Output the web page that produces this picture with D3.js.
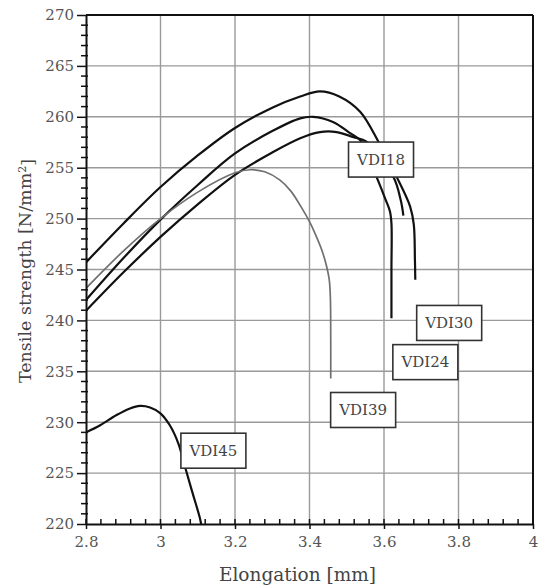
<!DOCTYPE html>
<html>
<head>
<meta charset="utf-8">
<script src="https://cdn.jsdelivr.net/npm/d3@7"></script>
<style>
  body { margin: 0; background: #fff; }
  text { font-family: "DejaVu Serif", "Liberation Serif", serif; }
</style>
</head>
<body>
<svg id="chart" width="542" height="586"></svg>
<script>
// curves: [elongation mm, tensile strength N/mm2]
const vdi30 = [[2.8,245.7],[2.9,249.5],[3.0,253.1],[3.1,256.2],[3.2,258.9],[3.3,260.9],[3.375,262.0],[3.428,262.5],[3.48,262.0],[3.536,260.5],[3.585,257.55],[3.634,254.1],[3.67,251.2],[3.68,249.4],[3.683,246],[3.684,244.0]];
const vdi24 = [[2.8,242.0],[2.9,246.1],[3.0,249.9],[3.1,253.3],[3.2,256.4],[3.3,258.6],[3.375,259.85],[3.41,260.0],[3.463,259.5],[3.509,258.4],[3.54,257.55],[3.58,254.1],[3.605,251.8],[3.616,250.7],[3.62,249.5],[3.62,245],[3.62,240.2]];
const vdi18 = [[2.8,240.95],[2.9,244.7],[3.0,248.2],[3.1,251.4],[3.2,254.3],[3.3,256.5],[3.375,257.9],[3.428,258.5],[3.473,258.5],[3.518,258.0],[3.553,257.55],[3.625,254.1],[3.645,251.8],[3.652,250.3]];
const vdi39 = [[2.8,243.15],[2.9,246.8],[3.0,250.0],[3.1,252.6],[3.2,254.5],[3.24,254.8],[3.28,254.6],[3.32,253.8],[3.35,252.7],[3.375,251.3],[3.4,249.7],[3.42,248.1],[3.435,246.7],[3.446,245.3],[3.453,244.0],[3.456,242.3],[3.457,238],[3.457,234.3]];
const vdi45 = [[2.8,229.0],[2.838,229.7],[2.882,230.7],[2.918,231.35],[2.945,231.6],[2.972,231.45],[2.999,230.9],[3.025,229.7],[3.048,227.9],[3.066,225.6],[3.084,223.3],[3.106,220.55],[3.11,219.8]];

const seriesNames = ["VDI30", "VDI24", "VDI18", "VDI39", "VDI45"];
const seriesData = [vdi30, vdi24, vdi18, vdi39, vdi45];
const seriesColor = ["#111", "#111", "#111", "#707070", "#111"];
// label box centres, in data units
const labelX = [3.775, 3.711, 3.592, 3.544, 3.142];
const labelY = [239.75, 235.9, 255.8, 231.2, 227.2];

const xTicks = [2.8, 3.0, 3.2, 3.4, 3.6, 3.8, 4.0];
const yTicks = [220, 225, 230, 235, 240, 245, 250, 255, 260, 265, 270];

const svg = d3.select("#chart");
const pLeft = 86, pRight = 533, pTop = 15, pBottom = 524;

const x = d3.scaleLinear().domain([2.8, 4.0]).range([pLeft, pRight]);
const y = d3.scaleLinear().domain([220, 270]).range([pBottom, pTop]);

svg.append("defs").append("clipPath").attr("id", "plotclip")
  .append("rect").attr("x", pLeft).attr("y", pTop)
  .attr("width", pRight - pLeft).attr("height", pBottom - pTop);

// grid
const grid = svg.append("g").attr("stroke", "#9a9a9a").attr("stroke-width", 1.4);
grid.selectAll(".gx").data(xTicks.slice(1, -1)).join("line")
  .attr("x1", d => x(d)).attr("x2", d => x(d))
  .attr("y1", pTop).attr("y2", pBottom);
grid.selectAll(".gy").data(yTicks.slice(1, -1)).join("line")
  .attr("x1", pLeft).attr("x2", pRight)
  .attr("y1", d => y(d)).attr("y2", d => y(d));

// frame top/right
svg.append("line").attr("x1", pLeft).attr("x2", pRight).attr("y1", pTop).attr("y2", pTop)
  .attr("stroke", "#111").attr("stroke-width", 2);
svg.append("line").attr("x1", pRight).attr("x2", pRight).attr("y1", pTop).attr("y2", pBottom)
  .attr("stroke", "#111").attr("stroke-width", 2);

// curves
const line = d3.line()
  .x(d => x(d[0])).y(d => y(d[1]))
  .curve(d3.curveCatmullRom.alpha(0.5));

svg.append("g").attr("clip-path", "url(#plotclip)")
  .selectAll("path").data(seriesData).join("path")
  .attr("d", line)
  .attr("fill", "none")
  .attr("stroke", (d, i) => seriesColor[i])
  .attr("stroke-width", (d, i) => i === 3 ? 1.7 : 2.2)
  .attr("stroke-linejoin", "round");

// axes
const xAxis = svg.append("g").attr("transform", `translate(0,${pBottom})`)
  .call(d3.axisBottom(x).tickValues(xTicks).tickFormat(d3.format("~g"))
    .tickSizeInner(5).tickSizeOuter(0).tickPadding(7));
xAxis.select(".domain").attr("stroke", "#111").attr("stroke-width", 2);
xAxis.selectAll("line").attr("stroke", "#111").attr("stroke-width", 1.5);
xAxis.selectAll("text").attr("font-size", 15).attr("fill", "#555");

const xMinor = d3.range(0, 31).map(i => 2.8 + i * 0.04);
svg.append("g").selectAll("line").data(xMinor).join("line")
  .attr("x1", d => x(d)).attr("x2", d => x(d))
  .attr("y1", pBottom).attr("y2", pBottom - 5)
  .attr("stroke", "#111").attr("stroke-width", 1.5);

const yAxis = svg.append("g").attr("transform", `translate(${pLeft},0)`)
  .call(d3.axisLeft(y).tickValues(yTicks).tickSizeInner(9).tickSizeOuter(0).tickPadding(3));
yAxis.select(".domain").attr("stroke", "#111").attr("stroke-width", 2);
yAxis.selectAll("line").attr("stroke", "#111").attr("stroke-width", 1.5);
yAxis.selectAll("text").attr("font-size", 15).attr("fill", "#555");

const yMinor = d3.range(220, 271, 1).filter(v => v % 5 !== 0);
svg.append("g").selectAll("line").data(yMinor).join("line")
  .attr("x1", pLeft - 5).attr("x2", pLeft + 2)
  .attr("y1", d => y(d)).attr("y2", d => y(d))
  .attr("stroke", "#111").attr("stroke-width", 1.5);

// label boxes
const boxW = 65, boxH = 35;
const labels = svg.append("g").selectAll("g").data(seriesNames).join("g")
  .attr("transform", (d, i) => `translate(${x(labelX[i])},${y(labelY[i])})`);
labels.append("rect")
  .attr("x", -boxW / 2).attr("y", -boxH / 2).attr("width", boxW).attr("height", boxH)
  .attr("fill", "#fff").attr("stroke", "#333").attr("stroke-width", 1.6);
labels.append("text")
  .attr("text-anchor", "middle").attr("dy", "0.35em")
  .attr("font-size", 15).attr("fill", "#444")
  .text(d => d);

// axis titles
svg.append("text")
  .attr("x", (pLeft + pRight) / 2 - 12).attr("y", 581)
  .attr("text-anchor", "middle").attr("font-size", 18.5).attr("fill", "#444")
  .text("Elongation [mm]");

const yt = svg.append("text")
  .attr("transform", `translate(31,271) rotate(-90)`)
  .attr("text-anchor", "middle").attr("font-size", 17.5).attr("fill", "#444");
yt.append("tspan").text("Tensile strength [N/mm");
yt.append("tspan").attr("dy", "-0.45em").attr("font-size", 11).text("2");
yt.append("tspan").attr("dy", "0.45em").text("]");
</script>
</body>
</html>
